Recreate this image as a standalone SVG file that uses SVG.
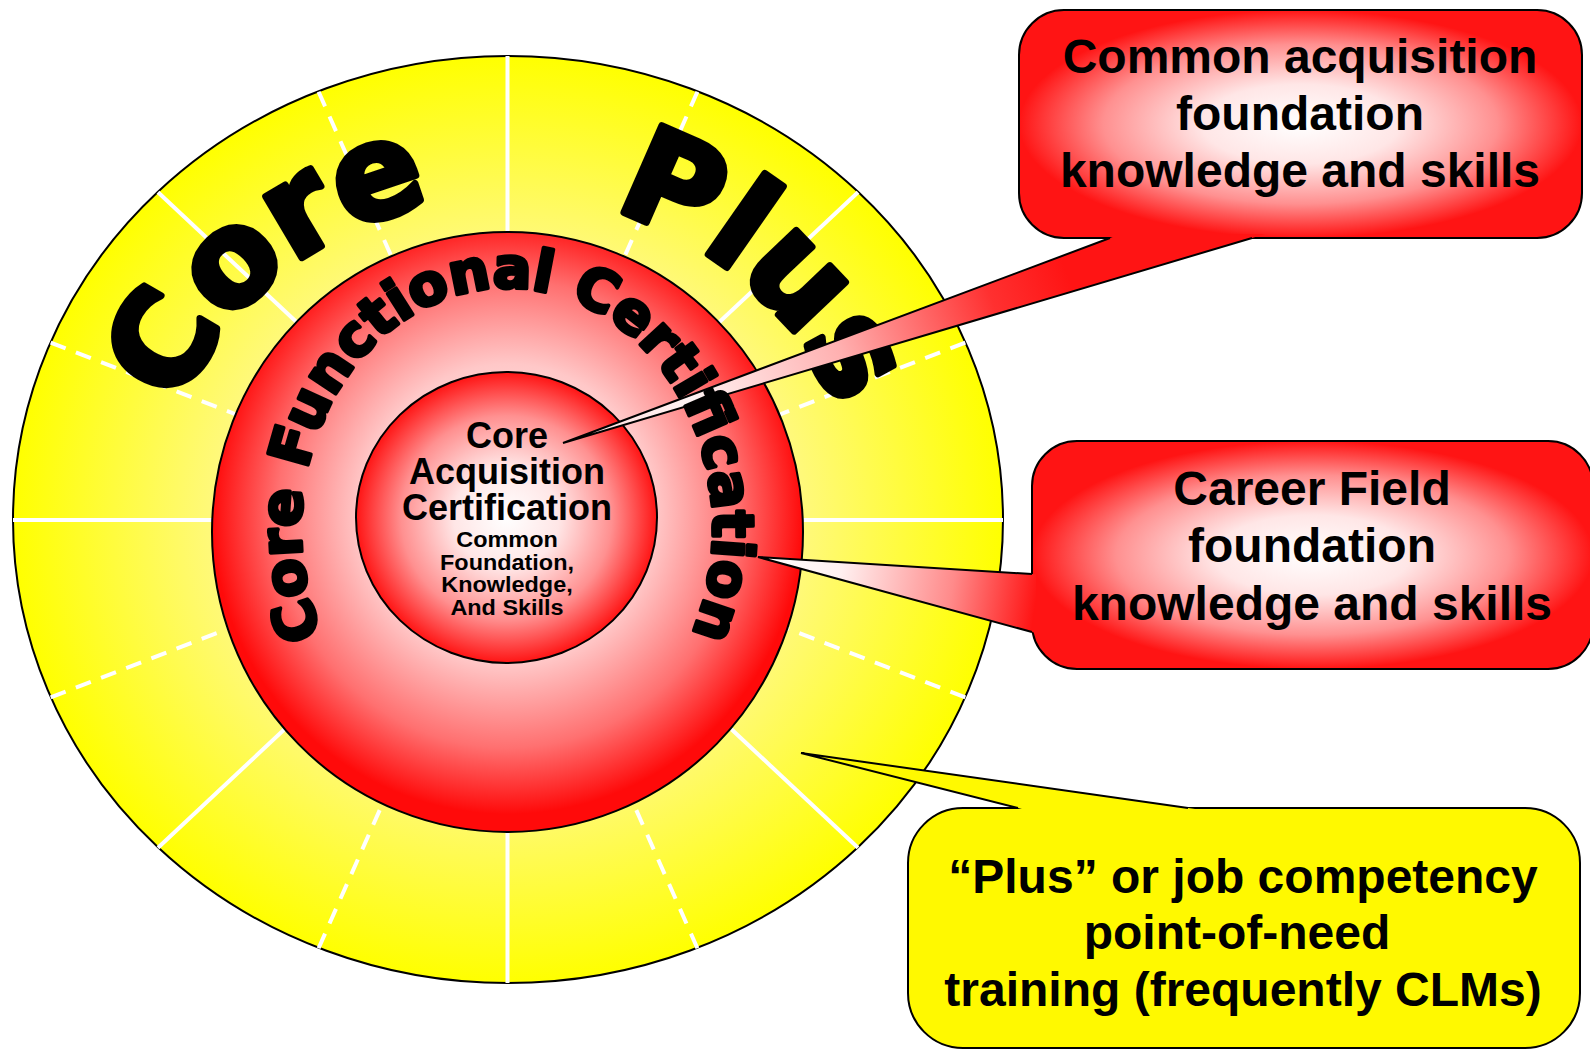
<svg xmlns="http://www.w3.org/2000/svg" width="1590" height="1052" viewBox="0 0 1590 1052">
<defs>
  <radialGradient id="gYellow" cx="0.5" cy="0.5" r="0.5">
    <stop offset="0" stop-color="#ffffe8"/>
    <stop offset="0.6" stop-color="#fff97a"/>
    <stop offset="1" stop-color="#ffff00"/>
  </radialGradient>
  <radialGradient id="gRing" cx="0.5" cy="0.47" r="0.5">
    <stop offset="0" stop-color="#ffffff"/>
    <stop offset="0.5" stop-color="#ffc8c8"/>
    <stop offset="0.78" stop-color="#ff7070"/>
    <stop offset="1" stop-color="#ff0a0a"/>
  </radialGradient>
  <radialGradient id="gSoft" cx="0.5" cy="0.5" r="0.5">
    <stop offset="0" stop-color="#ffffff"/>
    <stop offset="0.35" stop-color="#ffe6e6"/>
    <stop offset="0.7" stop-color="#ff9090"/>
    <stop offset="1" stop-color="#ff1414"/>
  </radialGradient>
  <linearGradient id="gTail1" gradientUnits="userSpaceOnUse" x1="1060" y1="255" x2="563" y2="443">
    <stop offset="0" stop-color="#ff1414"/>
    <stop offset="0.15" stop-color="#ff3030"/>
    <stop offset="0.45" stop-color="#ffb0b0"/>
    <stop offset="0.75" stop-color="#fff4f4"/>
    <stop offset="1" stop-color="#ffd8d8"/>
  </linearGradient>
  <linearGradient id="gTail2" gradientUnits="userSpaceOnUse" x1="1036" y1="600" x2="758" y2="557">
    <stop offset="0" stop-color="#ff1414"/>
    <stop offset="0.3" stop-color="#ff8a8a"/>
    <stop offset="0.7" stop-color="#fff0f0"/>
    <stop offset="1" stop-color="#ffffff"/>
  </linearGradient>
  <path id="arcCorePlus" d="M 508,844 A 349,324 0 0 1 508,196 A 349,324 0 0 1 508,844"/>
  <path id="arcRing" d="M 507,768 A 206,240 0 0 1 507,288 A 206,240 0 0 1 507,768"/>
  <style>
    .edge { stroke: #000; stroke-width: 2; }
    .solid { stroke: #fff; stroke-width: 4; fill: none; }
    .dash { stroke: #fff; stroke-width: 4; fill: none; stroke-dasharray: 16 11; }
    .arch { font-family: "DejaVu Sans", "Liberation Sans", sans-serif; font-weight: bold; fill: #000; stroke: #000; stroke-linejoin: round; }
    .lbl { font-family: "Liberation Sans", Arial, sans-serif; font-weight: bold; fill: #000; text-anchor: middle; }
    .tailline { fill: none; stroke: #000; stroke-width: 2; stroke-linejoin: miter; }
  </style>
</defs>

<g id="outer-ring">
  <ellipse cx="508" cy="519.5" rx="495" ry="463.5" fill="url(#gYellow)" class="edge" stroke-width="1.5"/>
  <g id="segment-lines">
    <line class="solid" x1="13" y1="520" x2="1003" y2="520"/>
    <line class="solid" x1="507.5" y1="56" x2="507.5" y2="983"/>
    <line class="solid" x1="158" y1="192.3" x2="858" y2="847.7"/>
    <line class="solid" x1="858" y1="192.3" x2="158" y2="847.7"/>
    <line class="dash" x1="965.3" y1="342.6" x2="508" y2="520"/>
    <line class="dash" x1="50.7" y1="697.4" x2="508" y2="520"/>
    <line class="dash" x1="965.3" y1="697.4" x2="508" y2="520"/>
    <line class="dash" x1="50.7" y1="342.6" x2="508" y2="520"/>
    <line class="dash" x1="697.4" y1="91.8" x2="508" y2="520"/>
    <line class="dash" x1="318.6" y1="948.2" x2="508" y2="520"/>
    <line class="dash" x1="318.6" y1="91.8" x2="508" y2="520"/>
    <line class="dash" x1="697.4" y1="948.2" x2="508" y2="520"/>
  </g>
</g>

<g id="core-functional-ring">
  <ellipse cx="507.5" cy="532" rx="295.5" ry="300" fill="url(#gRing)" class="edge"/>
</g>

<g id="core-acquisition">
  <ellipse cx="506.5" cy="517.5" rx="150.5" ry="145.5" fill="url(#gSoft)" class="edge"/>
</g>

<g id="core-plus-title">
  <text class="arch" font-size="130" stroke-width="7"><textPath href="#arcCorePlus" startOffset="38.4%" text-anchor="middle">Core</textPath></text>
  <text class="arch" font-size="130" stroke-width="7"><textPath href="#arcCorePlus" startOffset="62.3%" text-anchor="middle">Plus</textPath></text>
</g>

<g id="callout-common">
  <rect x="1019" y="10" width="563" height="228" rx="45" ry="45" fill="url(#gSoft)" class="edge"/>
  <text class="lbl" font-size="48" x="1300" y="73">Common acquisition</text>
  <text class="lbl" font-size="48" x="1300" y="130">foundation</text>
  <text class="lbl" font-size="48" x="1300" y="187">knowledge and skills</text>
</g>

<g id="callout-career">
  <rect x="1032" y="441" width="561" height="228" rx="45" ry="45" fill="url(#gSoft)" class="edge"/>
  <text class="lbl" font-size="48" x="1312" y="505">Career Field</text>
  <text class="lbl" font-size="48" x="1312" y="562">foundation</text>
  <text class="lbl" font-size="48" x="1312" y="620">knowledge and skills</text>
</g>

<g id="callout-plus">
  <rect x="908" y="808" width="672" height="240" rx="55" ry="55" fill="#fff900" class="edge"/>
  <text class="lbl" font-size="48" x="1243" y="893">“Plus” or job competency</text>
  <text class="lbl" font-size="48" x="1237" y="949">point-of-need</text>
  <text class="lbl" font-size="48" x="1243" y="1006">training (frequently CLMs)</text>
</g>

<g id="connectors">
  <polygon points="563,443 1120.7,234 1265.4,234" fill="url(#gTail1)"/>
  <polyline class="tailline" points="1110,238 563,443 1252,238"/>
  <polygon points="758,557 1036,574.2 1036,633.1" fill="url(#gTail2)"/>
  <polyline class="tailline" points="1032,574 758,557 1032,632"/>
  <polygon points="801,753 1033.8,812 1216.1,812" fill="#fff900"/>
  <polyline class="tailline" points="1018,808 801,753 1188,808"/>
</g>

<g id="ring-title">
  <text class="arch" font-size="57" stroke-width="3.8"><textPath href="#arcRing" startOffset="50%" text-anchor="middle">Core Functional Certification</textPath></text>
</g>

<g id="core-acquisition-text">
  <text class="lbl" font-size="36" x="507" y="448">Core</text>
  <text class="lbl" font-size="36" x="507" y="484">Acquisition</text>
  <text class="lbl" font-size="36" x="507" y="519.5">Certification</text>
  <g transform="translate(507,0) scale(1.09,1)">
    <text class="lbl" font-size="21.5" x="0" y="547.5">Common</text>
    <text class="lbl" font-size="21.5" x="0" y="570">Foundation,</text>
    <text class="lbl" font-size="21.5" x="0" y="592.5">Knowledge,</text>
    <text class="lbl" font-size="21.5" x="0" y="615">And Skills</text>
  </g>
</g>
</svg>
